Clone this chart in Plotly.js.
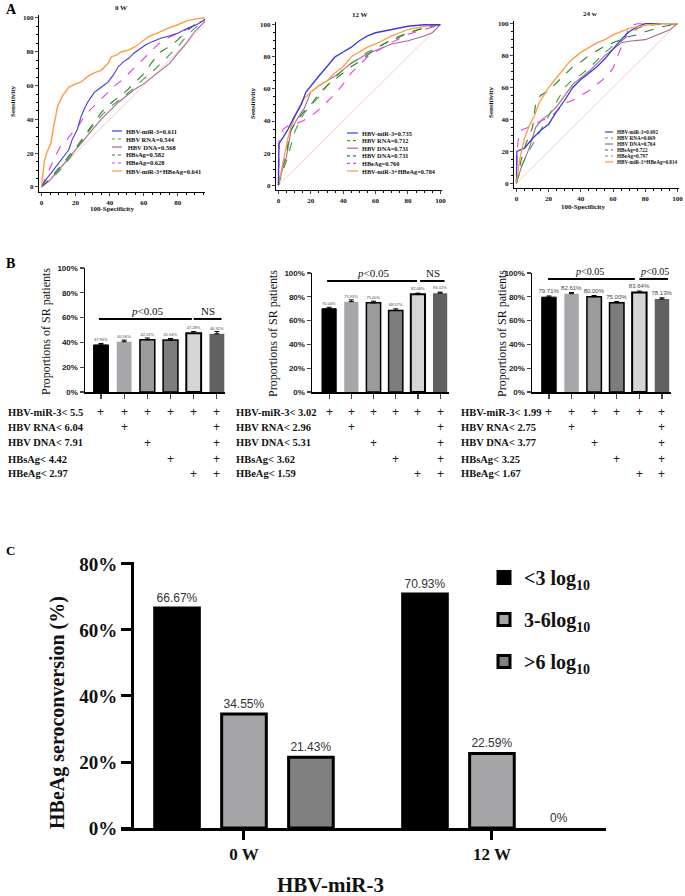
<!DOCTYPE html>
<html><head><meta charset="utf-8">
<script src="https://cdn.plot.ly/plotly-3.0.1.min.js"></script>
<style>html,body{margin:0;padding:0;background:#fff}</style>
</head><body><div id="chart" style="width:685px;height:896px"></div>
<script>
// ---------------- DATA ----------------
// Panel A, 0 W ROC curves
const w0_mir3_x  = [0,3,5.5,9,13,16,18,21,23,25,27,29,31,35,39,42,45,48,51,54,57,61,65,70,74,80,86,91,96];
const w0_mir3_y  = [0,5,8,13,18,22,28,34,41,46,50,53,56,59,62,66,71,74,76,79,81,84,86,88,89,91,94,96,99];
const w0_combo_x = [0,1,1.6,3,5.5,7,9.5,12.4,16,20,23,28,32,35,39,41,44,47,51,55,59,63,68,74.5,80,86,91,96];
const w0_combo_y = [0,8,15,20,26,35,48,54,59,61,62,66,68,69,73,77,78,80,81,83,86,89,91,94,96,98.6,99.5,100];
const w0_heag_x  = [0,3.5,7.5,11,15,18,21,24,27,31,35,39,43,47,51,55,59,64,69,74,78,83,88,92,96];
const w0_heag_y  = [0,8,17,24,28,32,35,40,44,48,52,56,60,63,67,71,75,80,85,88,90,92,95,97,99];
const w0_hbsag_x = [0,5,10,15,20,25,30,35,40,45,50,55,60,65,70,75,80,85,90,96];
const w0_hbsag_y = [0,5,11,17,23,30,37,44,49,53,57,62,67,74,80,83,87,92,96,99];
const w0_rna_x   = [0,5,10,15,20,25,30,35,40,45,50,55,60,65,70,75,80,85,90,96];
const w0_rna_y   = [0,4,9,15,22,29,36,42,47,51,55,59,64,68,73,78,83,89,94,98];
const w0_dna_x   = [0,5,10,15,20,25,30,35,40,45,50,55,60,65,70,75,80,85,90,96];
const w0_dna_y   = [0,4,10,16,22,28,34,40,45,50,54,58,61,65,69,73,79,85,92,98];
// Panel A, 12 W ROC curves
const w12_mir3_x  = [0,0.3,3,6,10,14,17,20,25,30,35,40,45,50,55,60,70,80,90,100];
const w12_mir3_y  = [0,26,30,35,43,50,58,62,68,74,80,83,86,90,93,95,97,99,100,100];
const w12_combo_x = [0,2,4,6,8,12,15,20,25,30,35,40,45,50,55,60,70,80,90,100];
const w12_combo_y = [0,10,20,30,37,47,53,58,62,65,70,74,80,83,86,88,93,97,99,100];
const w12_rna_x   = [0,3,5,8,10,13,16,20,25,30,35,40,45,50,55,60,70,80,90,100];
const w12_rna_y   = [0,10,15,25,33,40,45,50,55,62,67,72,76,79,83,85,91,95,98,100];
const w12_hbsag_x = [0,2,5,7,10,15,20,25,30,35,40,45,50,55,60,65,70,80,90,100];
const w12_hbsag_y = [0,10,20,33,38,45,50,57,62,66,70,74,77,81,85,88,90,95,98,100];
const w12_heag_x  = [0,0.5,3,6,10,15,20,25,30,35,40,45,50,55,60,70,80,90,100];
const w12_heag_y  = [0,28,35,37,38,40,43,47,52,57,63,70,75,80,83,89,94,97,100];
const w12_dna_x   = [0,2,5,8,12,16,20,25,30,35,40,45,50,55,60,70,80,90,95,100];
const w12_dna_y   = [0,8,18,35,42,48,58,62,65,68,72,76,79,82,84,88,90,93,95,100];
// Panel A, 24 w ROC curves
const w24_combo_x = [0,2,5,8,11,14,17,20,24,28,32,35,40,45,50,55,60,65,70,80,90,100];
const w24_combo_y = [0,15,28,36,42,50,55,60,65,70,75,78,82,85,88,90,93,95,97,99,100,100];
const w24_hbsag_x = [0,3,6,10,12,15,20,25,30,35,40,45,50,55,60,65,70,75,80,90,100];
const w24_hbsag_y = [0,15,25,35,50,55,58,63,68,73,76,80,83,86,88,90,92,93,95,98,100];
const w24_rna_x   = [0,3,6,30,35,40,45,50,55,60,65,70,75,80,100];
const w24_rna_y   = [0,10,17,60,65,68,72,77,82,86,89,93,97,99,100];
const w24_mir3_x  = [0,0.3,5,10,15,20,25,30,35,40,45,50,55,60,65,70,75,80,100];
const w24_mir3_y  = [0,20,22,28,33,37,45,52,60,65,69,73,78,84,90,95,98,100,100];
const w24_heag_x  = [0,0.5,2,5,10,15,20,25,30,35,40,45,50,55,60,65,70,75,100];
const w24_heag_y  = [0,22,33,34,36,39,41,45,50,52,55,58,62,66,72,85,98,100,100];
const w24_dna_x   = [0,3,8,12,16,20,25,30,35,40,45,50,55,60,65,70,80,85,90,95,100];
const w24_dna_y   = [0,10,22,35,40,43,48,55,62,66,70,75,80,84,88,89,90,92,94,96,100];
const diag_x = [0,100];
const diag_y = [0,100];

const legend_w0  = ['HBV-miR-3=0.611','HBV RNA=0.544',' HBV DNA=0.568','HBsAg=0.582','HBeAg=0.628','HBV-miR-3+HBeAg=0.641'];
const legend_w12 = ['HBV-miR-3=0.735','HBV RNA=0.712','HBV DNA=0.731','HBV DNA=0.731','HBeAg=0.760','HBV-miR-3+HBeAg=0.784'];
const legend_w24 = ['HBV-miR-3=0.692','HBV RNA=0.669','HBV DNA=0.764','HBsAg=0.722','HBeAg=0.797','HBV-miR-3+HBeAg=0.814'];
const roc_titles = ['0 W','12 W','24 w'];
const roc_ticks = [0,20,40,60,80,100];

// Panel B
const b_categories = ['miR-3','miR-3+RNA','miR-3+DNA','miR-3+HBsAg','miR-3+HBeAg','All'];
const b0_vals  = [37.96, 40.56, 42.11, 41.94, 47.28, 46.92];
const b0_err   = [1.2, 1.3, 1.4, 1.2, 1.5, 1.8];
const b12_vals = [70.00, 75.93, 75.00, 68.57, 82.08, 83.02];
const b12_err  = [1.2, 1.5, 1.3, 1.3, 1.0, 0.9];
const b24_vals = [79.71, 82.61, 80.00, 75.00, 83.64, 78.13];
const b24_err  = [1.0, 1.0, 1.1, 1.0, 1.2, 1.0];
const b_tickvals = [0,20,40,60,80,100];
const b_ticktext = ['0%','20%','40%','60%','80%','100%'];
const b_rows_w0  = ['HBV-miR-3< 5.5','HBV RNA< 6.04','HBV DNA< 7.91','HBsAg< 4.42','HBeAg< 2.97'];
const b_rows_w12 = ['HBV-miR-3< 3.02','HBV RNA< 2.96','HBV DNA< 5.31','HBsAg< 3.62','HBeAg< 1.59'];
const b_rows_w24 = ['HBV-miR-3< 1.99','HBV RNA< 2.75','HBV DNA< 3.77','HBsAg< 3.25','HBeAg< 1.67'];
const b_combo = [
  [1,1,1,1,1,1],
  [0,1,0,0,0,1],
  [0,0,1,0,0,1],
  [0,0,0,1,0,1],
  [0,0,0,0,1,1]
];
const b_sig_w0  = ['<i>p</i>&lt;0.05','NS'];
const b_sig_w12 = ['<i>p</i>&lt;0.05','NS'];
const b_sig_w24 = ['<i>p</i>&lt;0.05','<i>p</i>&lt;0.05'];

// Panel C
const c_categories = ['0 W','12 W'];
const c_low  = [66.67, 70.93];
const c_mid  = [34.55, 22.59];
const c_high = [21.43, 0];
const c_names = ['&lt;3 log<sub>10</sub>','3-6log<sub>10</sub>','&gt;6 log<sub>10</sub>'];
const c_tickvals = [0,20,40,60,80];
const c_ticktext = ['0%','20%','40%','60%','80%'];

// ---------------- LAYOUT HELPERS ----------------
const W = 685, H = 896;
const PX = x => x / W;
const PY = y => 1 - y / H;
const SERIF = 'Liberation Serif, Times New Roman, serif';
const SANS = 'Liberation Sans, Arial, sans-serif';

const COL = {mir3:'#3b3be3', combo:'#ff9a45', heag:'#e43fe4', hbsag:'#2f7d2f', rna:'#3da33d', dna:'#a8689a', diag:'#f3c2c2'};
const STY = {mir3:'solid', rna:'dash', dna:'solid', hbsag:'dash', heag:'dash', combo:'solid'};

const traces = [];
function roc(xs, ys, key, xa, ya, w) {
  traces.push({type:'scatter', mode:'lines', x:xs, y:ys, xaxis:xa, yaxis:ya, showlegend:false,
    hoverinfo:'skip', line:{color:COL[key], dash:STY[key], width:w||1.1}});
}
[['x','y'],['x2','y2'],['x3','y3']].forEach(([xa,ya]) => {
  traces.push({type:'scatter', mode:'lines', x:diag_x, y:diag_y, xaxis:xa, yaxis:ya, showlegend:false,
    hoverinfo:'skip', line:{color:COL.diag, width:0.8}});
});
roc(w0_dna_x, w0_dna_y, 'dna', 'x','y');
roc(w0_rna_x, w0_rna_y, 'rna', 'x','y');
roc(w0_hbsag_x, w0_hbsag_y, 'hbsag', 'x','y');
roc(w0_heag_x, w0_heag_y, 'heag', 'x','y');
roc(w0_mir3_x, w0_mir3_y, 'mir3', 'x','y');
roc(w0_combo_x, w0_combo_y, 'combo', 'x','y', 1.4);

roc(w12_dna_x, w12_dna_y, 'dna', 'x2','y2');
roc(w12_rna_x, w12_rna_y, 'rna', 'x2','y2');
roc(w12_hbsag_x, w12_hbsag_y, 'hbsag', 'x2','y2');
roc(w12_heag_x, w12_heag_y, 'heag', 'x2','y2');
roc(w12_combo_x, w12_combo_y, 'combo', 'x2','y2', 1.3);
roc(w12_mir3_x, w12_mir3_y, 'mir3', 'x2','y2', 1.4);

roc(w24_dna_x, w24_dna_y, 'dna', 'x3','y3');
roc(w24_rna_x, w24_rna_y, 'rna', 'x3','y3');
roc(w24_hbsag_x, w24_hbsag_y, 'hbsag', 'x3','y3');
roc(w24_heag_x, w24_heag_y, 'heag', 'x3','y3');
roc(w24_mir3_x, w24_mir3_y, 'mir3', 'x3','y3', 1.3);
roc(w24_combo_x, w24_combo_y, 'combo', 'x3','y3', 1.3);

// Panel B bars
const b_colors = ['#000000','#a7a7ab','#9b9b9b','#7d7d7d','#d5d5d5','#616161'];
const b_lcol   = ['#000000','#a7a7ab','#000000','#000000','#000000','#616161'];
const b_lw     = [1, 0, 1.5, 1.5, 2, 0];
function bpanel(vals, errs, xa, ya, fs) {
  traces.push({type:'bar', x:b_categories, y:vals, xaxis:xa, yaxis:ya, width:0.64, showlegend:false,
    marker:{color:b_colors, line:{color:b_lcol, width:b_lw}},
    error_y:{type:'data', array:errs, arrayminus:errs.map(()=>0), color:'#000', thickness:1, width:2.5},
    text: vals.map(v => v.toFixed(2)+'%'), textposition:'outside', constraintext:'none', cliponaxis:false,
    textfont:{family:SANS, size:fs, color:'#444'}, hoverinfo:'skip'});
}
bpanel(b0_vals, b0_err, 'x4','y4', 4);
bpanel(b12_vals, b12_err, 'x5','y5', 4);
bpanel(b24_vals, b24_err, 'x6','y6', 6);

// Panel C bars
const c_series = [c_low, c_mid, c_high];
const c_colors = ['#000000','#a6a6a9','#808080'];
const c_offset = [-0.36, -0.09, 0.18];
c_series.forEach((vals, i) => {
  traces.push({type:'bar', name:c_names[i], x:c_categories, y:vals, xaxis:'x7', yaxis:'y7',
    width:0.18, offset:c_offset[i], legendgroup:'g'+i,
    marker:{color:c_colors[i], line:{color:'#000', width:vals.map(v => v > 0 ? 3 : 0)}},
    text: vals.map(v => v === 0 ? '0%' : v.toFixed(2)+'%'), textposition:'outside', constraintext:'none',
    cliponaxis:false, textfont:{family:SANS, size:12, color:'#333'}, hoverinfo:'skip'});
});

// ---------------- AXES ----------------
const rocTick = {family:SERIF, size:7, color:'#111', weight:'bold'};
function rocX(d0, d1, r1) {
  return {domain:[PX(d0),PX(d1)], range:[-1.5, r1], tickvals:roc_ticks, ticktext:roc_ticks.map(String),
    ticks:'outside', ticklen:3, tickwidth:1,
    showline:true, linecolor:'#000', linewidth:1.2, showgrid:false, zeroline:false, tickfont:rocTick,
    minor:{dtick:5, ticks:'outside', ticklen:1.5, tickcolor:'#000'}};
}
function rocY(top, bot) {
  return {domain:[PY(bot),PY(top)], range:[-3,102], tickvals:roc_ticks, ticktext:roc_ticks.map(String),
    ticks:'outside', ticklen:3, tickwidth:1,
    showline:true, linecolor:'#000', linewidth:1.2, showgrid:false, zeroline:false, tickfont:rocTick,
    minor:{dtick:5, ticks:'outside', ticklen:1.5, tickcolor:'#000'}};
}
const bTick = {family:SANS, size:8, color:'#222', weight:'bold'};
function bX(d0, d1, r0, r1) {
  return {domain:[PX(d0),PX(d1)], range:[r0,r1], type:'category', showticklabels:false, ticks:'outside', ticklen:5,
    tickwidth:1.2, showline:true, linecolor:'#000', linewidth:1.5, showgrid:false, zeroline:false};
}
function bY(top) {
  return {domain:[PY(392),PY(top)], range:[0,100], tickvals:b_tickvals, ticktext:b_ticktext, ticks:'outside',
    ticklen:4, tickwidth:1.2, showline:true, linecolor:'#000', linewidth:1.5, showgrid:false, zeroline:false, tickfont:bTick};
}

const layout = {
  width:W, height:H, margin:{l:0,r:0,t:0,b:0}, paper_bgcolor:'#fff', plot_bgcolor:'rgba(0,0,0,0)',
  barmode:'group', showlegend:true,
  xaxis: Object.assign(rocX(39,205,96), {anchor:'y'}),
  yaxis: Object.assign(rocY(14.6,192), {anchor:'x'}),
  xaxis2: Object.assign(rocX(276,442,101), {anchor:'y2'}),
  yaxis2: Object.assign(rocY(21.5,190), {anchor:'x2'}),
  xaxis3: Object.assign(rocX(514,679,101), {anchor:'y3'}),
  yaxis3: Object.assign(rocY(20.5,188), {anchor:'x3'}),
  xaxis4: Object.assign(bX(85,225,-0.69,5.35), {anchor:'y4'}),
  yaxis4: Object.assign(bY(268), {anchor:'x4'}),
  xaxis5: Object.assign(bX(312,449,-0.77,5.4), {anchor:'y5'}),
  yaxis5: Object.assign(bY(273), {anchor:'x5'}),
  xaxis6: Object.assign(bX(532,671,-0.75,5.4), {anchor:'y6'}),
  yaxis6: Object.assign(bY(273), {anchor:'x6'}),
  xaxis7: {domain:[PX(121),PX(606)], range:[-0.496,1.46], type:'category', anchor:'y7', ticks:'outside', ticklen:9,
    tickwidth:3, tickcolor:'#000', showline:true, linecolor:'#000', linewidth:3, showgrid:false, zeroline:false,
    tickfont:{family:SERIF, size:17, color:'#111', weight:'bold'}},
  yaxis7: {domain:[PY(828),PY(562)], range:[0,80.6], anchor:'free', position:PX(132), tickvals:c_tickvals,
    ticktext:c_ticktext, ticks:'outside', ticklen:10, tickwidth:3, tickcolor:'#000', showline:true, linecolor:'#000',
    linewidth:3, showgrid:false, zeroline:false, tickfont:{family:SERIF, size:19, color:'#111', weight:'bold'}},
  legend:{x:PX(484), y:PY(558), xanchor:'left', yanchor:'top', bgcolor:'rgba(0,0,0,0)', tracegroupgap:13,
    font:{family:SERIF, size:20, color:'#111', weight:'bold'}},
  annotations:[], shapes:[]
};

const A = layout.annotations, S = layout.shapes;
function txt(x, y, t, o) {
  A.push(Object.assign({xref:'paper', yref:'paper', x:PX(x), y:PY(y), text:t, showarrow:false,
    xanchor:'center', yanchor:'middle'}, o||{}));
}
// Panel letters
txt(4, 9, '<b>A</b>', {xanchor:'left', font:{family:SERIF, size:14, color:'#000'}});
txt(4, 263, '<b>B</b>', {xanchor:'left', font:{family:SERIF, size:14, color:'#000'}});
txt(4, 550, '<b>C</b>', {xanchor:'left', font:{family:SERIF, size:13, color:'#000'}});

// ROC titles & axis titles
const rocFont = {family:SERIF, size:7, color:'#111'};
txt(121, 8, '<b>'+roc_titles[0]+'</b>', {font:rocFont});
txt(360, 15, '<b>'+roc_titles[1]+'</b>', {font:rocFont});
txt(590, 14, '<b>'+roc_titles[2]+'</b>', {font:rocFont});
txt(13, 101, '<b>Sensitivity</b>', {textangle:-90, font:rocFont});
txt(253, 103, '<b>Sensitivity</b>', {textangle:-90, font:rocFont});
txt(491, 102, '<b>Sensitivity</b>', {textangle:-90, font:rocFont});
txt(112, 209, '<b>100-Specificity</b>', {font:rocFont});
txt(583, 207, '<b>100-Specificity</b>', {font:rocFont});

// ROC legends (line samples + text)
const legKeys = ['mir3','rna','dna','hbsag','heag','combo'];
function rocLegend(labels, x0, x1, y0, dy, fs) {
  labels.forEach((lab, i) => {
    const y = y0 + i*dy;
    S.push({type:'line', xref:'paper', yref:'paper', x0:PX(x0), x1:PX(x1), y0:PY(y), y1:PY(y),
      line:{color:COL[legKeys[i]], width:1.2, dash:STY[legKeys[i]]==='dash'?'dot':'solid'}});
    txt(x1+2, y, '<b>'+lab+'</b>', {xanchor:'left', font:{family:SERIF, size:fs, color:'#111'}});
  });
}
rocLegend(legend_w0, 112, 122, 131, 8, 6.5);
rocLegend(legend_w12, 347, 358, 133, 7.6, 6.3);
rocLegend(legend_w24, 605, 613, 132, 6, 5.2);

// Panel B: y titles, tables, significance
const bTitleFont = {family:SERIF, size:12, color:'#111'};
txt(46, 332, 'Proportions of SR patients', {textangle:-90, font:bTitleFont});
txt(273, 334, 'Proportions of SR patients', {textangle:-90, font:bTitleFont});
txt(502, 334, 'Proportions of SR patients', {textangle:-90, font:bTitleFont});

const rowY = [412, 427, 443, 459, 474];
function bTable(rows, xLeft, xa) {
  rows.forEach((lab, r) => {
    txt(xLeft, rowY[r], '<b>'+lab+'</b>', {xanchor:'left', font:{family:SERIF, size:10.5, color:'#111'}});
    b_combo[r].forEach((on, c) => {
      if (on) A.push({xref:xa, yref:'paper', x:c, y:PY(rowY[r]), text:'+', showarrow:false,
        xanchor:'center', yanchor:'middle', font:{family:SANS, size:12, color:'#222'}});
    });
  });
}
bTable(b_rows_w0, 6, 'x4');
bTable(b_rows_w12, 234, 'x5');
bTable(b_rows_w24, 459, 'x6');

function bSig(xa, ya, labels, y, a0, a1, b0, b1, ta, tb, fs) {
  S.push({type:'line', xref:xa, yref:ya, x0:a0, x1:a1, y0:y, y1:y, line:{color:'#000', width:2}});
  S.push({type:'line', xref:xa, yref:ya, x0:b0, x1:b1, y0:y, y1:y, line:{color:'#000', width:2}});
  A.push({xref:xa, yref:ya, x:ta, y:y, text:labels[0], showarrow:false, xanchor:'center', yanchor:'bottom',
    font:{family:SERIF, size:fs, color:'#111'}});
  A.push({xref:xa, yref:ya, x:tb, y:y, text:labels[1], showarrow:false, xanchor:'center', yanchor:'bottom',
    font:{family:SERIF, size:fs, color:'#111'}});
}
bSig('x4','y4', b_sig_w0, 58.9, -0.09, 3.92, 4.0, 5.2, 2.0, 4.6, 11);
bSig('x5','y5', b_sig_w12, 93.3, -0.09, 3.96, 4.1, 5.2, 1.98, 4.7, 11);
bSig('x6','y6', b_sig_w24, 95, -0.04, 3.8, 4.0, 5.27, 1.8, 4.65, 10);

// Panel C titles
txt(57, 713, '<b>HBeAg seroconversion (%)</b>', {textangle:-90, font:{family:SERIF, size:20, color:'#111'}});
txt(330, 885, '<b>HBV-miR-3</b>', {font:{family:SERIF, size:21, color:'#111'}});

Plotly.newPlot('chart', traces, layout, {staticPlot:true, displayModeBar:false});
</script>
</body></html>
